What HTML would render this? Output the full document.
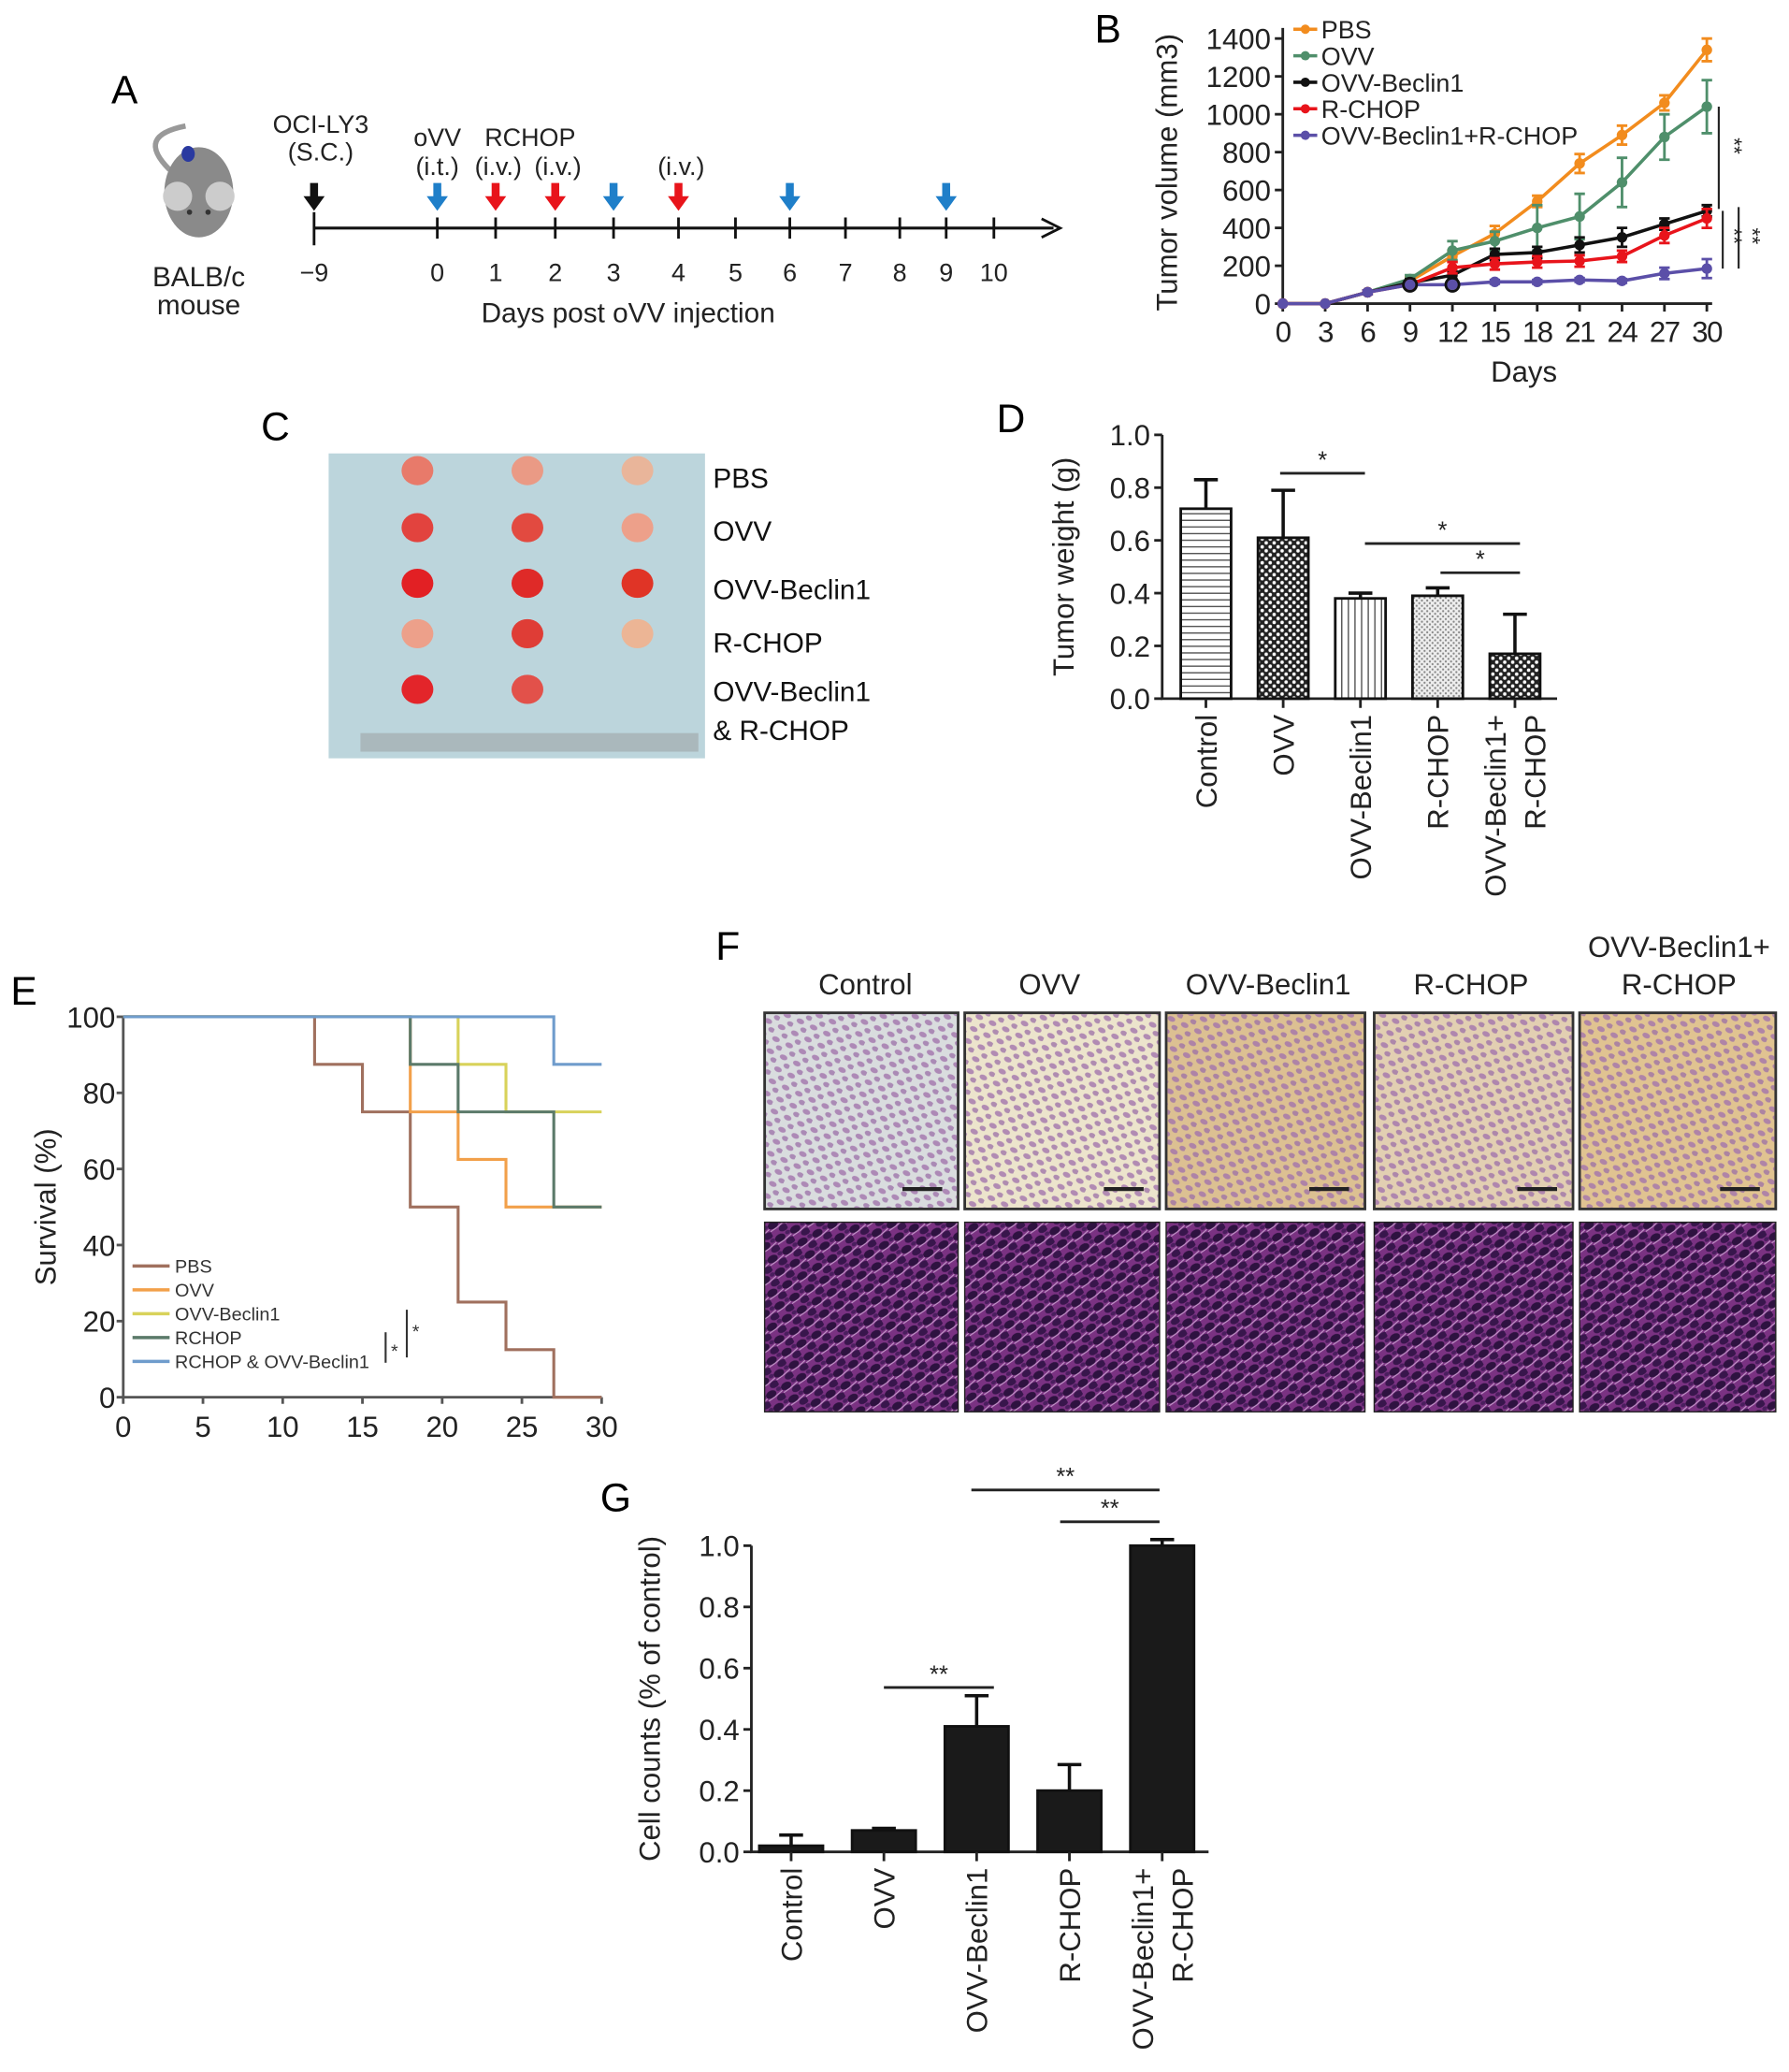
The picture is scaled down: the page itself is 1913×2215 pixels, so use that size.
<!DOCTYPE html>
<html><head><meta charset="utf-8"><style>
html,body{margin:0;padding:0;background:#fff;}
svg{display:block;font-family:"Liberation Sans",Arial,sans-serif;}
</style></head><body>
<svg id="fig" width="1913" height="2215" viewBox="0 0 1350 1563" xmlns="http://www.w3.org/2000/svg">
<defs>
<pattern id="pH" width="6" height="5" patternUnits="userSpaceOnUse"><rect width="6" height="5" fill="#fff"/><line x1="0" y1="2.5" x2="6" y2="2.5" stroke="#555" stroke-width="1"/></pattern>
<pattern id="pC" width="6" height="6" patternUnits="userSpaceOnUse"><rect width="6" height="6" fill="#222"/><circle cx="1.5" cy="1.5" r="1.3" fill="#fff"/><circle cx="4.5" cy="4.5" r="1.3" fill="#fff"/></pattern>
<pattern id="pV" width="5" height="6" patternUnits="userSpaceOnUse"><rect width="5" height="6" fill="#fff"/><line x1="2.5" y1="0" x2="2.5" y2="6" stroke="#555" stroke-width="1"/></pattern>
<pattern id="pD" width="4" height="4" patternUnits="userSpaceOnUse"><rect width="4" height="4" fill="#eee"/><circle cx="1" cy="1" r="0.8" fill="#888"/><circle cx="3" cy="3" r="0.8" fill="#888"/></pattern>
<pattern id="ihc" width="11" height="10" patternUnits="userSpaceOnUse" patternTransform="rotate(25)"><ellipse cx="4" cy="3" rx="3" ry="2" fill="#a274ac" opacity="0.8"/><ellipse cx="9" cy="8" rx="2.6" ry="1.9" fill="#9a6ea6" opacity="0.75"/></pattern>
<pattern id="he" width="13" height="11" patternUnits="userSpaceOnUse" patternTransform="rotate(-30)"><rect width="13" height="11" fill="#7a3282"/><ellipse cx="4" cy="3" rx="4.2" ry="2.8" fill="#2e1240"/><ellipse cx="10" cy="8.5" rx="3.8" ry="2.6" fill="#38164c"/><ellipse cx="11" cy="2" rx="2" ry="1.5" fill="#4a1e5e"/><path d="M0 6.5 L6 6 L13 4.5" stroke="#d9b5df" stroke-width="0.8" fill="none" opacity="0.8"/></pattern>
</defs>

<!-- Panel A -->
<g>
<text x="84" y="78" font-size="30">A</text>
<g>
<path d="M128 128 C110 110 115 100 140 95" stroke="#999" stroke-width="4" fill="none"/>
<ellipse cx="150" cy="145" rx="26" ry="34" fill="#8a8a8a"/>
<circle cx="134" cy="148" r="11" fill="#ccc"/><circle cx="166" cy="148" r="11" fill="#ccc"/>
<ellipse cx="142" cy="116" rx="5" ry="6" fill="#2a3aa0"/>
<circle cx="143" cy="160" r="2" fill="#333"/><circle cx="157" cy="160" r="2" fill="#333"/>
</g>
<text x="150" y="216" font-size="21" text-anchor="middle" fill="#222">BALB/c</text>
<text x="150" y="237" font-size="21" text-anchor="middle" fill="#222">mouse</text>
<g id="timeline"></g>
</g>

<!-- Panel B -->
<g>
<text x="826" y="32" font-size="30">B</text>
<g id="chartB"></g>
</g>

<!-- Panel C -->
<g>
<text x="197" y="332" font-size="30">C</text>
<rect x="248" y="342" width="284" height="230" fill="#bcd5dc"/>
<rect x="272" y="553" width="255" height="14" fill="#aab8bc"/>
<g id="tumors"></g>
<g font-size="21" fill="#111">
<text x="538" y="368">PBS</text>
<text x="538" y="408">OVV</text>
<text x="538" y="452">OVV-Beclin1</text>
<text x="538" y="492">R-CHOP</text>
<text x="538" y="529">OVV-Beclin1</text>
<text x="538" y="558">&amp; R-CHOP</text>
</g>
</g>

<!-- Panel D -->
<g>
<text x="752" y="326" font-size="30">D</text>
<g id="chartD"></g>
</g>

<!-- Panel E -->
<g>
<text x="8" y="758" font-size="30">E</text>
<g id="chartE"></g>
</g>

<!-- Panel F -->
<g>
<text x="540" y="724" font-size="30">F</text>
<g id="panelF"></g>
</g>

<!-- Panel G -->
<g>
<text x="453" y="1140" font-size="30">G</text>
<g id="chartG"></g>
</g>
</svg>
<script>
const NS="http://www.w3.org/2000/svg";
function mk(p,tag,at,txt){const e=document.createElementNS(NS,tag);for(const k in at)e.setAttribute(k,at[k]);if(txt!==undefined)e.textContent=txt;p.appendChild(e);return e;}

// ===== Panel A data =====
const tlDays=[-9,0,1,2,3,4,5,6,7,8,9,10];
const tlX=[237,330,374,419,463,512,555,596,638,679,714,750];
const injDays=[-9,0,1,2,3,4,6,9];
const injType=["cell","ovv","rchop","rchop","ovv","rchop","ovv","ovv"];
// ===== Panel B data =====
const bDays=[0,3,6,9,12,15,18,21,24,27,30];
const bNames=["PBS","OVV","OVV-Beclin1","R-CHOP","OVV-Beclin1+R-CHOP"];
const bPBS=[0,0,60,120,250,370,540,740,890,1060,1340];
const bOVV=[0,0,60,130,280,330,400,460,640,880,1040];
const bBec=[0,0,60,110,150,260,270,310,350,420,490];
const bRCH=[0,0,60,100,190,210,220,225,250,360,450];
const bCombo=[0,0,60,100,100,115,115,125,120,160,185];
const bErrPBS=[0,0,10,20,30,40,30,50,50,40,60];
const bErrOVV=[0,0,10,20,50,50,120,120,130,120,140];
const bErrBec=[0,0,10,20,20,30,30,40,50,30,30];
const bErrRCH=[0,0,10,20,30,30,30,30,30,40,50];
const bErrCombo=[0,0,10,10,10,10,10,10,10,30,50];
const bYTicks=[0,200,400,600,800,1000,1200,1400];
// ===== Panel D data =====
const dCats=["Control","OVV","OVV-Beclin1","R-CHOP","OVV-Beclin1+|R-CHOP"];
const dVals=[0.72,0.61,0.38,0.39,0.17];
const dErr=[0.11,0.18,0.02,0.03,0.15];
const dTicks=[0,0.2,0.4,0.6,0.8,1.0];
// ===== Panel E data =====
const eNames=["PBS","OVV","OVV-Beclin1","RCHOP","RCHOP & OVV-Beclin1"];
const eTimes=[[0,12,15,18,21,24,27,30],[0,18,21,24,30],[0,21,24,30],[0,18,21,27,30],[0,27,30]];
const eSurv=[[100,87.5,75,50,25,12.5,0,0],[100,75,62.5,50,50],[100,87.5,75,75],[100,87.5,75,50,50],[100,87.5,87.5]];
const eXTicks=[0,5,10,15,20,25,30];
const eYTicks=[0,20,40,60,80,100];
// ===== Panel G data =====
const gCats=["Control","OVV","OVV-Beclin1","R-CHOP","OVV-Beclin1+|R-CHOP"];
const gVals=[0.02,0.07,0.41,0.20,1.0];
const gErr=[0.035,0.007,0.10,0.085,0.02];
const gTicks=[0,0.2,0.4,0.6,0.8,1.0];

// ===== Panel A draw =====
(function(){
const g=document.getElementById('timeline');
const dx=d=>tlX[tlDays.indexOf(d)];
let l=mk(g,'line',{x1:237,y1:172,x2:795,y2:172,stroke:'#111','stroke-width':2.2});

let ah=mk(g,'path',{d:'M786 165 L800 172 L786 179',fill:'none',stroke:'#111','stroke-width':2});

tlDays.forEach((d,i)=>{
 const x=tlX[i];
 let t=mk(g,'line',{x1:x,y1:d===-9?160:164,x2:x,y2:d===-9?185:180,stroke:'#111','stroke-width':2});
 
 let tx=mk(g,'text',{x:x,y:212,'font-size':19,'text-anchor':'middle',fill:'#222'},d===-9?'−9':String(d));
 
});
const col={cell:'#111',ovv:'#1f7fc9',rchop:'#e8141b'};
injDays.forEach((d,i)=>{
 const x=dx(d);const c=col[injType[i]];
 let a=mk(g,'path',{d:`M${x-3} 138 L${x+3} 138 L${x+3} 148 L${x+8} 148 L${x} 159 L${x-8} 148 L${x-3} 148 Z`,fill:c});
 
});
const labs=[["OCI-LY3",242,100],["(S.C.)",242,121],["oVV",330,110],["RCHOP",400,110],["(i.t.)",330,132],["(i.v.)",376,132],["(i.v.)",421,132],["(i.v.)",514,132]];
labs.forEach(L=>{let t=mk(g,'text',{x:L[1],y:L[2],'font-size':19,'text-anchor':'middle',fill:'#222'},L[0]);
 });
let tt=mk(g,'text',{x:474,y:243,'font-size':21,'text-anchor':'middle',fill:'#222'},'Days post oVV injection');

})();

// ===== Panel B draw =====
(function(){
const g=document.getElementById('chartB');
const x0=968,x1=1288,y0=229,y1=29;
const X=d=>x0+(d-0)/30*(x1-x0), Y=v=>y0-v/1400*(y0-y1);
let ax=mk(g,'path',{d:`M${x0} ${y1-8} L${x0} ${y0} L${x1+4} ${y0}`,fill:'none',stroke:'#222','stroke-width':2});

bYTicks.forEach(v=>{let t=mk(g,'line',{x1:x0-6,y1:Y(v),x2:x0,y2:Y(v),stroke:'#222','stroke-width':2});
 
 let s=mk(g,'text',{x:x0-9,y:Y(v)+8,'font-size':22,'text-anchor':'end',fill:'#222'},String(v));
 });
bDays.forEach(d=>{let t=mk(g,'line',{x1:X(d),y1:y0,x2:X(d),y2:y0+6,stroke:'#222','stroke-width':2});
 
 let s=mk(g,'text',{x:X(d),y:y0+29,'font-size':22,'text-anchor':'middle',fill:'#222','letter-spacing':'-1'},String(d));
 });
let xt=mk(g,'text',{x:1150,y:288,'font-size':22,'text-anchor':'middle',fill:'#222'},'Days');

let yt=mk(g,'text',{x:0,y:0,'font-size':22,'text-anchor':'middle',fill:'#222',transform:`translate(888 130) rotate(-90)`},'Tumor volume (mm3)');

const series=[bPBS,bOVV,bBec,bRCH,bCombo];
const errs=[bErrPBS,bErrOVV,bErrBec,bErrRCH,bErrCombo];
const cols=['#f28c1e','#4f8f6b','#111','#e8141b','#5b4fa8'];
series.forEach((s,si)=>{
 const gg=mk(g,'g',{});
 
 
 let d=s.map((v,i)=>(i?'L':'M')+X(bDays[i])+' '+Y(v)).join(' ');
 let p=mk(gg,'path',{d:d,fill:'none',stroke:cols[si],'stroke-width':2.5});
 
 s.forEach((v,i)=>{const x=X(bDays[i]),e=errs[si][i];
  if(e>0){let eb=mk(gg,'path',{d:`M${x} ${Y(v+e)} L${x} ${Y(v-e)} M${x-4} ${Y(v+e)} L${x+4} ${Y(v+e)} M${x-4} ${Y(v-e)} L${x+4} ${Y(v-e)}`,stroke:cols[si],'stroke-width':2});
   }
  let c=mk(gg,'circle',{cx:x,cy:Y(v),r:4,fill:cols[si]});
  });
 const ly=22+si*20;
 let ll=mk(gg,'line',{x1:976,y1:ly,x2:994,y2:ly,stroke:cols[si],'stroke-width':2.5});
 
 mk(gg,'circle',{cx:985,cy:ly,r:3.5,fill:cols[si]});
 let lt=mk(gg,'text',{x:997,y:ly+7,'font-size':19,fill:'#222'},bNames[si]);
 
});
[[9,100],[12,100]].forEach(q=>{let c=mk(g,'circle',{cx:X(q[0]),cy:Y(q[1]),r:5,fill:'none',stroke:'#111','stroke-width':2});});
const br=[[1297,1040,500,1303,110],[1300,490,185,1303,178],[1312,510,185,1317,178]];
br.forEach(b=>{let l=mk(g,'line',{x1:b[0],y1:Y(b[1]),x2:b[0],y2:Y(b[2]),stroke:'#222','stroke-width':1.5});
 
 let t=mk(g,'text',{x:0,y:0,'font-size':16,fill:'#222',transform:`translate(${b[3]} ${b[4]}) rotate(90)`,'text-anchor':'middle'},'**');
 });
})();

// ===== Panel C tumors =====
(function(){
const g=document.getElementById('tumors');
const rows=[355,398,440,478,520],cols=[315,398,481];
const tint=[['#e87a6a','#ea9a85','#e9b59a'],['#e2433e','#e24a40','#eda08a'],['#e22024','#df2a28','#e03426'],['#eda08a','#df3d36','#ecb595'],['#e3252a','#e2514a',null]];
rows.forEach((y,r)=>cols.forEach((x,c)=>{if(!tint[r][c])return;
 let e=mk(g,'ellipse',{cx:x,cy:y,rx:12,ry:11,fill:tint[r][c]});
 }));
})();

// ===== bar chart helper =====
function barChart(gid,cats,vals,errs,ticks,o){
const g=document.getElementById(gid);
const Y=v=>o.y0-v/1.0*(o.y0-o.y1);
let ax=mk(g,'path',{d:`M${o.x0} ${o.y1} L${o.x0} ${o.y0} L${o.xe} ${o.y0}`,fill:'none',stroke:'#222','stroke-width':2});

ticks.forEach(v=>{let t=mk(g,'line',{x1:o.x0-6,y1:Y(v),x2:o.x0,y2:Y(v),stroke:'#222','stroke-width':2});
 
 let s=mk(g,'text',{x:o.x0-9,y:Y(v)+8,'font-size':22,'text-anchor':'end',fill:'#222'},v.toFixed(1));
 });
let yt=mk(g,'text',{x:0,y:0,'font-size':22,'text-anchor':'middle',fill:'#222',transform:`translate(${o.ytx} ${(o.y0+o.y1)/2}) rotate(-90)`},o.ytitle);

cats.forEach((c,i)=>{const cx=o.cx0+i*o.step,w=o.bw;
 let r=mk(g,'rect',{x:cx-w/2,y:Y(vals[i]),width:w,height:o.y0-Y(vals[i]),fill:o.fills[i],stroke:'#111','stroke-width':2});
 
 const t=vals[i]+errs[i];
 let e=mk(g,'path',{d:`M${cx} ${Y(vals[i])} L${cx} ${Y(t)} M${cx-9} ${Y(t)} L${cx+9} ${Y(t)}`,stroke:'#111','stroke-width':2.5});
 
 let tk=mk(g,'line',{x1:cx,y1:o.y0,x2:cx,y2:o.y0+7,stroke:'#222','stroke-width':2});
 
 const parts=c.split('|');
 parts.forEach((pt,j)=>{const lx=cx+8+(j-(parts.length-1))*30+(parts.length>1?15:0);
  let s=mk(g,'text',{x:0,y:0,'font-size':22,'text-anchor':'end',fill:'#222',transform:`translate(${lx} ${o.y0+12}) rotate(-90)`},pt);
  });
});
o.sig.forEach(s=>{let l=mk(g,'line',{x1:s[0],y1:s[2],x2:s[1],y2:s[2],stroke:'#222','stroke-width':2});
 
 let t=mk(g,'text',{x:(s[0]+s[1])/2,y:s[2]-4,'font-size':18,'text-anchor':'middle',fill:'#222'},s[3]);
 });
}
barChart('chartD',dCats,dVals,dErr,dTicks,{p:'d',x0:877,xe:1175,y0:527,y1:328,cx0:910,step:58.3,bw:38,ytx:810,ytitle:'Tumor weight (g)',
 fills:['url(#pH)','url(#pC)','url(#pV)','url(#pD)','url(#pC)'],sig:[[966,1030,357,'*'],[1030,1147,410,'*'],[1087,1147,432,'*']]});
barChart('chartG',gCats,gVals,gErr,gTicks,{p:'g',x0:567,xe:912,y0:1397,y1:1166,cx0:597,step:70,bw:48,ytx:498,ytitle:'Cell counts (% of control)',
 fills:['#1a1a1a','#1a1a1a','#1a1a1a','#1a1a1a','#1a1a1a'],sig:[[667,750,1273,'**'],[733,875,1124,'**'],[800,875,1148,'**']]});

// ===== Panel E draw =====
(function(){
const g=document.getElementById('chartE');
const x0=93,x1=454,y0=1054,y1=767;
const X=t=>x0+t/30*(x1-x0),Y=v=>y0-v/100*(y0-y1);
let ax=mk(g,'path',{d:`M${x0} ${y1} L${x0} ${y0} L${x1} ${y0}`,fill:'none',stroke:'#555','stroke-width':2});

eYTicks.forEach(v=>{let t=mk(g,'line',{x1:x0-5,y1:Y(v),x2:x0,y2:Y(v),stroke:'#555','stroke-width':2});
 
 let s=mk(g,'text',{x:x0-6,y:Y(v)+8,'font-size':22,'text-anchor':'end',fill:'#222'},String(v));
 });
eXTicks.forEach(v=>{let t=mk(g,'line',{x1:X(v),y1:y0,x2:X(v),y2:y0+5,stroke:'#555','stroke-width':2});
 
 let s=mk(g,'text',{x:X(v),y:y0+30,'font-size':22,'text-anchor':'middle',fill:'#222'},String(v));
 });
let yt=mk(g,'text',{x:0,y:0,'font-size':22,'text-anchor':'middle',fill:'#222',transform:`translate(42 ${(y0+y1)/2}) rotate(-90)`},'Survival (%)');

const cols=['#a0705e','#f2a04a','#d8d25a','#5b7a6a','#6f9ccc'];
eTimes.forEach((ts,si)=>{let d='M'+X(ts[0])+' '+Y(eSurv[si][0]);
 for(let i=1;i<ts.length;i++){d+=' L'+X(ts[i])+' '+Y(eSurv[si][i-1])+' L'+X(ts[i])+' '+Y(eSurv[si][i]);}
 let p=mk(g,'path',{d:d,fill:'none',stroke:cols[si],'stroke-width':2.2});
 
 const ly=955+si*18;
 let ll=mk(g,'line',{x1:100,y1:ly,x2:128,y2:ly,stroke:cols[si],'stroke-width':2.5});
 
 let lt=mk(g,'text',{x:132,y:ly+5,'font-size':14,fill:'#333'},eNames[si]);
 });
[[291,1005,1028,295,1024],[307,988,1024,311,1009]].forEach(b=>{let l=mk(g,'line',{x1:b[0],y1:b[1],x2:b[0],y2:b[2],stroke:'#333','stroke-width':1.5});
 
 let t=mk(g,'text',{x:b[3],y:b[4],'font-size':14,fill:'#333'},'*');
 });
})();

// ===== Panel F =====
(function(){
const g=document.getElementById('panelF');
const names=["Control","OVV","OVV-Beclin1","R-CHOP","OVV-Beclin1+R-CHOP"];
const xs=[577,728,880,1037,1192],ws=[146,147,150,150,148];
const bg=['#d9dcde','#ece4cc','#dcc092','#e2cfb2','#e0c391'];
names.forEach((n,i)=>{
 let r=mk(g,'rect',{x:xs[i],y:764,width:ws[i],height:148,fill:bg[i],stroke:'#333','stroke-width':2});
 
 mk(g,'rect',{x:xs[i]+1,y:765,width:ws[i]-2,height:146,fill:'url(#ihc)'});
 let sb=mk(g,'line',{x1:xs[i]+ws[i]-42,y1:897,x2:xs[i]+ws[i]-12,y2:897,stroke:'#222','stroke-width':3});
 
 let h=mk(g,'rect',{x:xs[i],y:922,width:ws[i],height:143,fill:'url(#he)',stroke:'#222','stroke-width':1});
 
});
const L=[["Control",653,750],["OVV",792,750],["OVV-Beclin1",957,750],["R-CHOP",1110,750],["OVV-Beclin1+",1267,722],["R-CHOP",1267,750]];
L.forEach(l=>{let t=mk(g,'text',{x:l[1],y:l[2],'font-size':22,'text-anchor':'middle',fill:'#222'},l[0]);
 });
})();
</script>
</body></html>
